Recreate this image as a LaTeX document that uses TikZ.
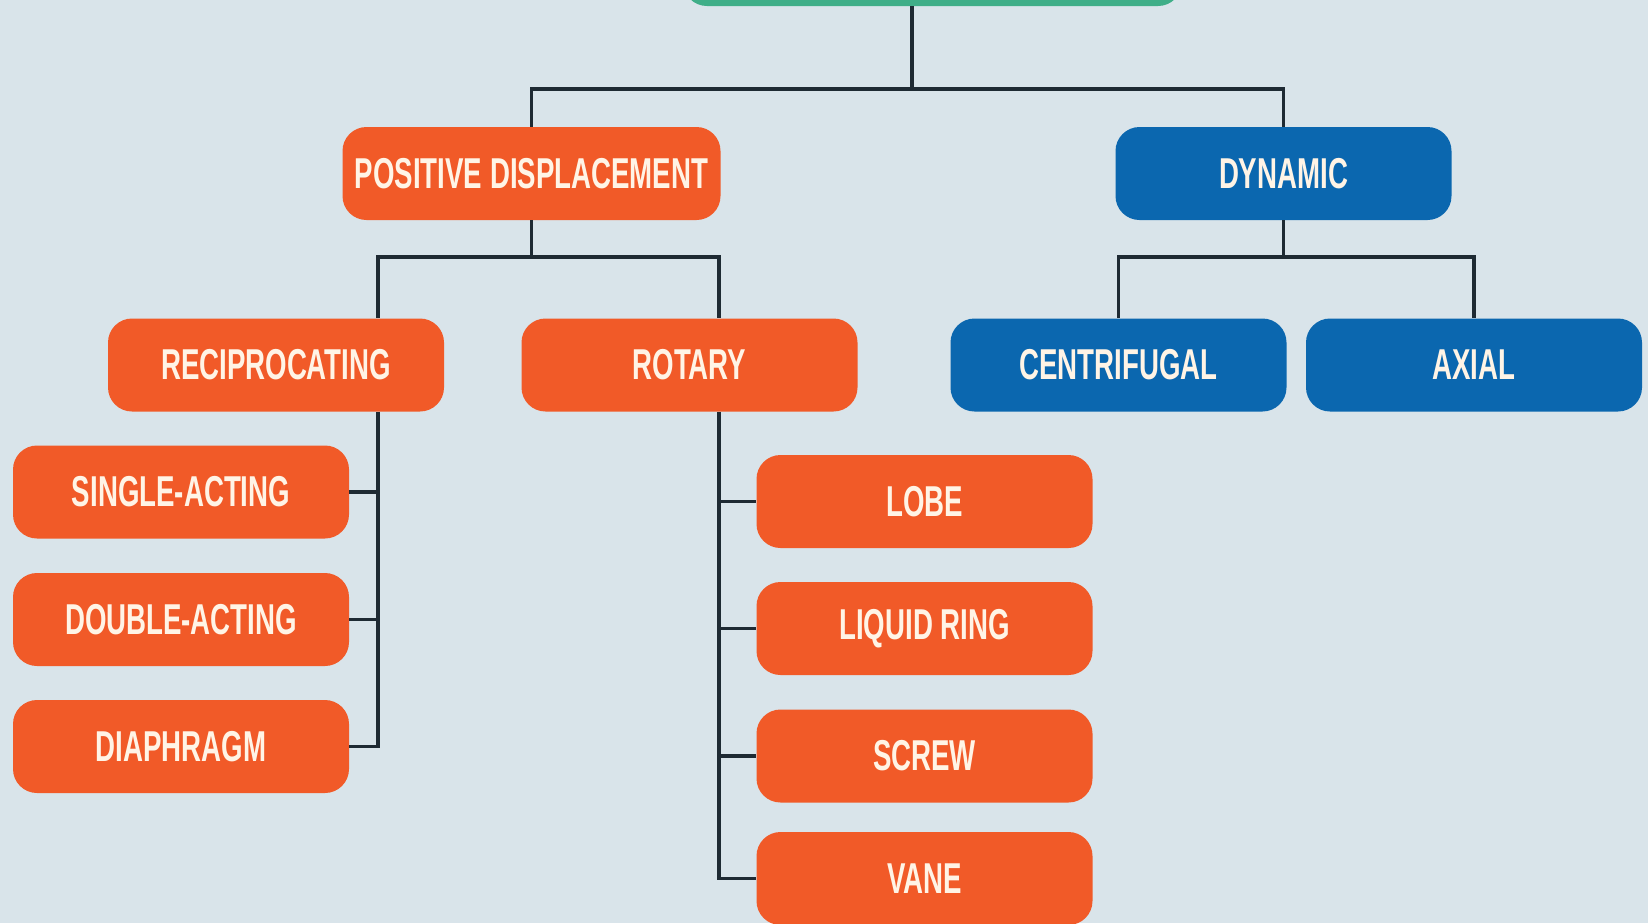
\documentclass[tikz,border=0pt]{standalone}
\usepackage{fontspec}
\newfontfamily\lblfont{Liberation Sans}[FakeStretch=0.64]
\definecolor{bgc}{HTML}{D9E4EA}
\definecolor{orng}{HTML}{F15A28}
\definecolor{blu}{HTML}{0B67AF}
\definecolor{grn}{HTML}{3FAE88}
\definecolor{linec}{HTML}{1E2A33}
\definecolor{txtc}{HTML}{FFF4E6}
\tikzset{
  x=0.5pt, y=-0.5pt,
  box/.style={rounded corners=12pt, minimum width=168pt, minimum height=46.5pt,
    inner sep=0pt, text=txtc, font=\lblfont\bfseries\fontsize{21.6}{24}\selectfont, anchor=center},
  obox/.style={box, fill=orng},
  bbox/.style={box, fill=blu},
  conn/.style={draw=linec, line width=1.6pt},
}
\begin{document}
\begin{tikzpicture}
\useasboundingbox (0,0) rectangle (1648,923);
\fill[bgc] (0,0) rectangle (1648,923);
\begin{scope}
\clip (0,0) rectangle (1648,923);
% root box (top, mostly cut off)
\node[box, fill=grn, minimum width=249.5pt, minimum height=60pt] (root) at (932.5,-54) {};
\node[obox, minimum width=189pt] (pd) at (531.5,173.5) {POSITIVE DISPLACEMENT};
\node[bbox] (dyn) at (1283.5,173.5) {DYNAMIC};
\node[obox] (rec) at (276,365) {RECIPROCATING};
\node[obox] (rot) at (689.5,365) {ROTARY};
\node[bbox] (cen) at (1118.5,365) {CENTRIFUGAL};
\node[bbox] (ax) at (1474,365) {AXIAL};
\node[obox] (sa) at (181,492) {SINGLE-ACTING};
\node[obox] (da) at (181,619.5) {DOUBLE-ACTING};
\node[obox] (dia) at (181,746.5) {DIAPHRAGM};
\node[obox] (lobe) at (924.5,501.5) {LOBE};
\node[obox] (lr) at (924.5,628.5) {LIQUID RING};
\node[obox] (scr) at (924.5,756) {SCREW};
\node[obox] (vane) at (924.5,878.5) {VANE};
% junction coordinates
\coordinate (j0) at (912,89);
\coordinate (recx) at (378,257);
\coordinate (rotx) at (719,257);
\coordinate (jd) at (1283.5,257);
% connectors
\draw[conn] (j0 |- root.south) -- (j0);
\draw[conn] (j0) -| (pd.north);
\draw[conn] (j0) -| (dyn.north);
\draw[conn] (pd.south) |- (recx) -- (recx |- rec.north);
\draw[conn] (pd.south) |- (rotx) -- (rotx |- rot.north);
\draw[conn] (dyn.south) -- (jd) -| (cen.north);
\draw[conn] (jd) -| (ax.north);
\draw[conn] (recx |- rec.south) |- (dia.east);
\draw[conn] (recx |- sa.east) -- (sa.east);
\draw[conn] (recx |- da.east) -- (da.east);
\draw[conn] (rotx |- rot.south) |- (vane.west);
\draw[conn] (rotx |- lobe.west) -- (lobe.west);
\draw[conn] (rotx |- lr.west) -- (lr.west);
\draw[conn] (rotx |- scr.west) -- (scr.west);
\end{scope}
\end{tikzpicture}
\end{document}
